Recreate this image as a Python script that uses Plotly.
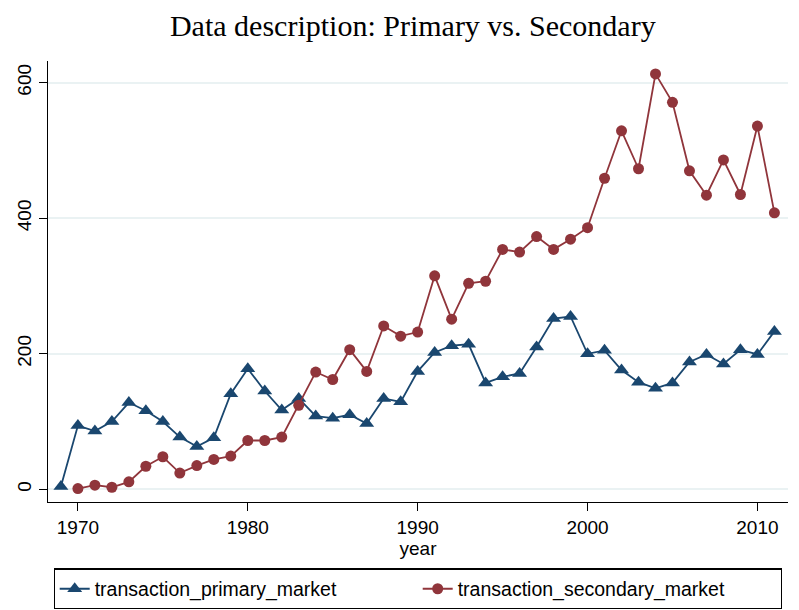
import plotly.graph_objects as go

years_primary = list(range(1969, 2012))
primary = [4, 94, 86, 100, 128, 116, 100, 77, 63, 76, 141, 178, 145, 117,
           134, 108, 105, 110, 97, 134, 129, 174, 202, 212, 214, 157, 166, 171,
           210, 252, 255, 200, 205, 176, 158, 149, 157, 188, 199, 185, 206, 199, 233]

years_secondary = list(range(1970, 2012))
secondary = [1, 6, 3, 11, 34, 48, 24, 35, 44, 49, 72, 72, 77,
             124, 173, 162, 206, 174, 241, 226, 232, 315, 251, 304, 307, 354, 350, 373,
             354, 369, 386, 459, 529, 473, 613, 571, 470, 434, 486, 435, 536, 408]

x_ticks = [1970, 1980, 1990, 2000, 2010]
y_ticks = [0, 200, 400, 600]

navy = "#1a476f"
maroon = "#90353b"
grid = "#eaf2f3"

# page body has an 8px margin, so the figure is drawn 8px smaller
W, H = 791, 602

fig = go.Figure()
fig.add_trace(go.Scatter(
    x=years_primary, y=primary, mode="lines+markers",
    name="transaction_primary_market",
    line=dict(color=navy, width=1.8),
    marker=dict(symbol="triangle-up", size=13, color=navy),
))
fig.add_trace(go.Scatter(
    x=years_secondary, y=secondary, mode="lines+markers",
    name="transaction_secondary_market",
    line=dict(color=maroon, width=1.8),
    marker=dict(symbol="circle", size=11, color=maroon),
))

font_sans = "Liberation Sans, Arial, Helvetica, sans-serif"

fig.update_layout(
    width=W, height=H,
    margin=dict(l=39.7, r=10.7, t=53, b=108.3, autoexpand=False),
    paper_bgcolor="white", plot_bgcolor="white",
    font=dict(family=font_sans, size=18, color="black"),
    title=dict(
        text="Data description: Primary vs. Secondary",
        font=dict(family="Liberation Serif, Times New Roman, serif", size=30, color="black"),
        x=0.493, xref="paper", xanchor="center",
        y=1 - 7 / H, yref="container", yanchor="top",
        pad=dict(t=0, b=0),
    ),
    xaxis=dict(
        range=[1968.24, 2011.8],
        tickvals=x_ticks, ticktext=[str(v) for v in x_ticks],
        showgrid=False, zeroline=False,
        showline=True, linecolor="black", linewidth=1.3,
        ticks="outside", ticklen=8, tickwidth=1.3, tickcolor="black",
        tickfont=dict(size=19),
        title=dict(text="year", font=dict(size=19), standoff=2),
    ),
    yaxis=dict(
        range=[-18.75, 632],
        tickvals=y_ticks, ticktext=[str(v) for v in y_ticks],
        tickangle=-90,
        showgrid=True, gridcolor=grid, gridwidth=1.5,
        zeroline=False,
        showline=True, linecolor="black", linewidth=1.3,
        ticks="outside", ticklen=8, tickwidth=1.3, tickcolor="black",
        tickfont=dict(size=19),
    ),
    showlegend=True,
    legend=dict(
        orientation="h",
        x=0.5, xanchor="center",
        y=-0.1505, yanchor="top",
        bordercolor="black", borderwidth=1.2,
        bgcolor="white",
        font=dict(size=19.5),
        entrywidth=318, entrywidthmode="pixels",
    ),
)

fig.write_html("out.html")
